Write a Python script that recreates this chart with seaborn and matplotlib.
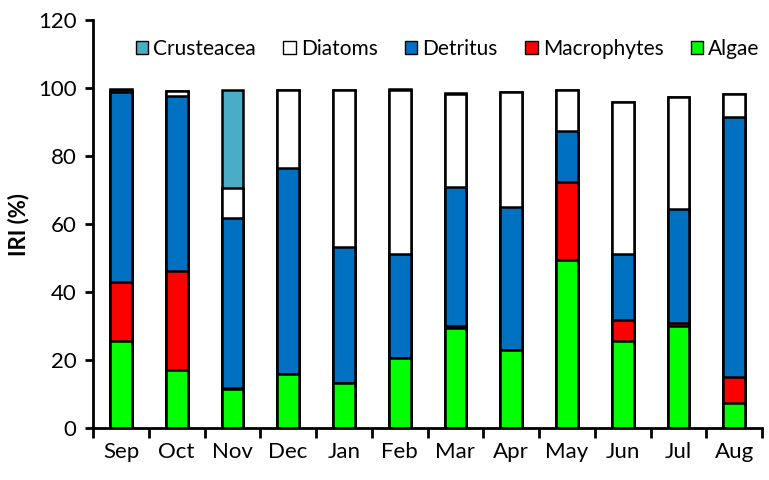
import pandas as pd
import matplotlib.pyplot as plt
import seaborn as sns
from matplotlib.patches import Patch

# Values (IRI %), bottom to top of each stack
months = ['Sep', 'Oct', 'Nov', 'Dec', 'Jan', 'Feb', 'Mar', 'Apr', 'May', 'Jun', 'Jul', 'Aug']
algae = [25.5, 17.2, 11.5, 16.0, 13.2, 20.7, 29.5, 23.0, 49.5, 25.7, 30.1, 7.5]
macrophytes = [17.5, 29.0, 0.3, 0.0, 0.0, 0.0, 0.6, 0.0, 23.0, 6.0, 0.8, 7.6]
detritus = [56.0, 51.4, 49.9, 60.4, 40.0, 30.5, 40.9, 42.1, 14.8, 19.5, 33.5, 76.4]
diatoms = [0.5, 1.5, 8.9, 23.1, 46.4, 48.2, 27.3, 33.8, 12.3, 44.7, 33.0, 6.9]
crusteacea = [0.3, 0.0, 28.8, 0.0, 0.0, 0.3, 0.3, 0.0, 0.0, 0.0, 0.0, 0.0]

colors = {
    'Algae': '#00FF00',
    'Macrophytes': '#FF0000',
    'Detritus': '#0070C0',
    'Diatoms': '#FFFFFF',
    'Crusteacea': '#4BACC6',
}

df = pd.DataFrame({
    'month': months,
    'Algae': algae,
    'Macrophytes': macrophytes,
    'Detritus': detritus,
    'Diatoms': diatoms,
    'Crusteacea': crusteacea,
})

# Cumulative tops so bars can be overlaid to look stacked
order = ['Algae', 'Macrophytes', 'Detritus', 'Diatoms', 'Crusteacea']
cum = df[order].cumsum(axis=1)
cum['month'] = df['month']

plt.rcParams['font.family'] = ['Lato', 'DejaVu Sans']
fig = plt.figure(figsize=(7.69, 4.8), dpi=100)
ax = fig.add_axes([0.121, 0.108, 0.870, 0.850])

for name in reversed(order):
    sns.barplot(data=cum, x='month', y=name, color=colors[name], edgecolor='black',
                linewidth=1.8, width=0.39, saturation=1, ax=ax)

ax.set_xlim(-0.5, 11.5)
ax.set_ylim(0, 120)
ax.set_yticks(range(0, 121, 20))
ax.set_xlabel('')
ax.set_ylabel('IRI (%)', fontsize=16, fontweight='bold', labelpad=6)

# ticks between categories, like the original
ax.set_xticks([i - 0.5 for i in range(13)], minor=True)
ax.tick_params(axis='x', which='major', length=0, labelsize=16, pad=10)
ax.tick_params(axis='x', which='minor', length=7, width=2, direction='out')
ax.tick_params(axis='y', length=6, width=2, direction='out', labelsize=16, pad=6)

for s in ['top', 'right']:
    ax.spines[s].set_visible(False)
for s in ['left', 'bottom']:
    ax.spines[s].set_linewidth(2)

handles = [Patch(facecolor=colors[n], edgecolor='black', linewidth=1) for n in reversed(order)]
ax.legend(handles, list(reversed(order)), ncol=5, frameon=False, fontsize=15,
          loc='center', bbox_to_anchor=(0.53, 0.93), handlelength=0.6, handleheight=0.6,
          handletextpad=0.25, columnspacing=1.3)

plt.savefig('out.png', dpi=100)
